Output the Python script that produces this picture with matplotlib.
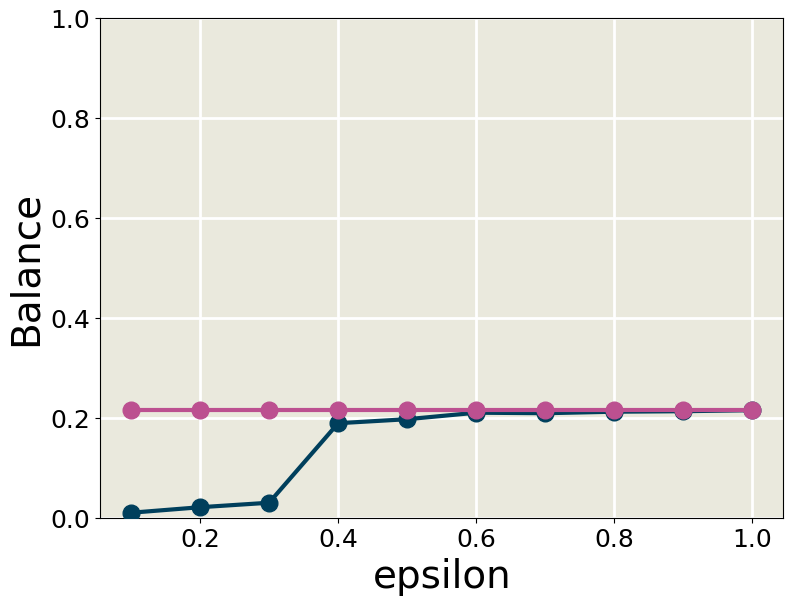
import numpy as np
import matplotlib
matplotlib.use("Agg")
import matplotlib.pyplot as plt

epsilon = [0.1, 0.2, 0.3, 0.4, 0.5, 0.6, 0.7, 0.8, 0.9, 1.0]
balance_dark = [0.011, 0.022, 0.031, 0.19, 0.198, 0.211, 0.21, 0.213, 0.214, 0.216]
balance_pink = [0.217, 0.217, 0.217, 0.217, 0.217, 0.217, 0.217, 0.217, 0.217, 0.217]

fig, ax = plt.subplots(figsize=(7.93, 6.04), dpi=100)
ax.set_facecolor("#eae9dd")

ax.plot(epsilon, balance_dark, color="#003f5c", linewidth=3, marker="o", markersize=12, zorder=3)
ax.plot(epsilon, balance_pink, color="#bc5090", linewidth=3, marker="o", markersize=12, zorder=4)

ax.grid(color="white", linewidth=2)
ax.set_axisbelow(True)
ax.set_ylim(0, 1.0)
ax.set_xticks([0.2, 0.4, 0.6, 0.8, 1.0])
ax.tick_params(labelsize=18)
ax.set_xlabel("epsilon", fontsize=28)
ax.set_ylabel("Balance", fontsize=28)

plt.subplots_adjust(left=0.126, right=0.988, top=0.97, bottom=0.142)
plt.savefig("out.png")
